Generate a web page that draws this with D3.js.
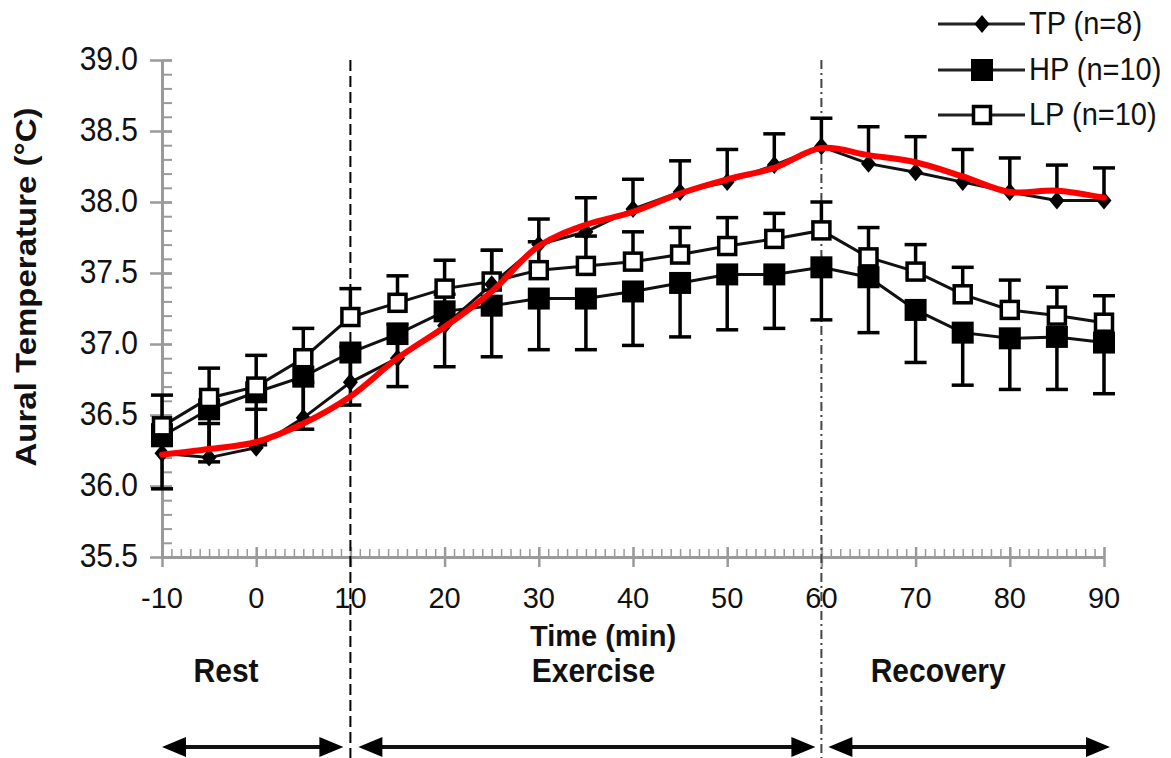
<!DOCTYPE html>
<html>
<head>
<meta charset="utf-8">
<script src="https://cdn.jsdelivr.net/npm/d3@7"></script>
<style>
  body { margin: 0; background: #fff; }
  text { font-family: "Liberation Sans", Arial, sans-serif; }
</style>
</head>
<body>
<div id="chart"></div>
<script>
// time points (min)
var times = [-10, -5, 0, 5, 10, 15, 20, 25, 30, 35, 40, 45, 50, 55, 60, 65, 70, 75, 80, 85, 90];

// TP (n=8), error bars drawn upward
var tpMean = [36.23, 36.20, 36.27, 36.48, 36.73, 36.90, 37.13, 37.42, 37.70, 37.79, 37.95, 38.07, 38.14, 38.26, 38.39, 38.27, 38.21, 38.14, 38.07, 38.01, 38.01];
var tpSd   = [0.20, 0.24, 0.27, 0.25, 0.25, 0.24, 0.22, 0.24, 0.18, 0.24, 0.21, 0.22, 0.23, 0.22, 0.20, 0.26, 0.25, 0.23, 0.24, 0.25, 0.23];

// HP (n=10), error bars drawn downward
var hpMean = [36.35, 36.54, 36.66, 36.77, 36.94, 37.07, 37.23, 37.27, 37.32, 37.32, 37.37, 37.43, 37.49, 37.49, 37.54, 37.47, 37.24, 37.08, 37.04, 37.05, 37.01];
var hpSd   = [0.37, 0.37, 0.37, 0.37, 0.37, 0.37, 0.39, 0.36, 0.36, 0.36, 0.38, 0.38, 0.39, 0.38, 0.37, 0.39, 0.37, 0.37, 0.36, 0.37, 0.36];

// LP (n=10), error bars drawn upward
var lpMean = [36.42, 36.62, 36.70, 36.90, 37.19, 37.29, 37.39, 37.44, 37.52, 37.55, 37.58, 37.63, 37.69, 37.74, 37.80, 37.61, 37.51, 37.35, 37.24, 37.20, 37.15];
var lpSd   = [0.22, 0.21, 0.22, 0.21, 0.20, 0.19, 0.20, 0.22, 0.20, 0.21, 0.21, 0.19, 0.20, 0.18, 0.20, 0.21, 0.19, 0.19, 0.21, 0.20, 0.19];

// red smoothed trend line drawn over TP
var trend = [36.22, 36.26, 36.31, 36.44, 36.63, 36.90, 37.12, 37.37, 37.69, 37.84, 37.93, 38.06, 38.16, 38.24, 38.38, 38.33, 38.28, 38.18, 38.07, 38.08, 38.03];

var yTicks = [35.5, 36.0, 36.5, 37.0, 37.5, 38.0, 38.5, 39.0];
var xTicks = [-10, 0, 10, 20, 30, 40, 50, 60, 70, 80, 90];

var phaseNames = ["Rest", "Exercise", "Recovery"];
var phaseStart = [-10, 10, 60];
var phaseEnd   = [10, 60, 90];

var legendLabels = ["TP (n=8)", "HP (n=10)", "LP (n=10)"];

// ---- layout ----
var W = 1171, H = 758;
var margin = { top: 60, right: 67, bottom: 201, left: 162 };
var phaseLabelAt = [-3.2, 35.8, 72.4];
var axisGrey = "#9a9a9a";

var svg = d3.select("#chart").append("svg")
    .attr("width", W).attr("height", H);

var x = d3.scaleLinear().domain([-10, 90]).range([margin.left, W - margin.right]);
var y = d3.scaleLinear().domain([35.5, 39]).range([H - margin.bottom, margin.top]);

function label(g, tx, ty, str, size, weight, anchor, sy) {
    return g.append("text")
        .attr("transform", "translate(" + tx + "," + ty + ") scale(1," + (sy || 1) + ")")
        .attr("font-size", size)
        .attr("font-weight", weight || "normal")
        .attr("text-anchor", anchor || "middle")
        .attr("fill", "#111")
        .text(str);
}

// ---- axes ----
var yMinor = svg.append("g")
    .attr("transform", "translate(" + margin.left + ",0)")
    .call(d3.axisRight(y).ticks(35).tickSize(10).tickFormat(""));
yMinor.select(".domain").remove();
yMinor.selectAll("line").attr("stroke", axisGrey).attr("stroke-width", 2);

var yAxis = svg.append("g")
    .attr("transform", "translate(" + margin.left + ",0)")
    .call(d3.axisLeft(y).tickValues(yTicks).tickSize(12).tickSizeOuter(0).tickFormat(""));
yAxis.select(".domain").attr("stroke", axisGrey).attr("stroke-width", 3);
yAxis.selectAll("line").attr("stroke", axisGrey).attr("stroke-width", 2.5).attr("x2", -12).attr("x1", 10);

var xMinor = svg.append("g")
    .attr("transform", "translate(0," + y(35.5) + ")")
    .call(d3.axisTop(x).ticks(100).tickSize(8).tickFormat(""));
xMinor.select(".domain").remove();
xMinor.selectAll("line").attr("stroke", axisGrey).attr("stroke-width", 1.5);

var xAxis = svg.append("g")
    .attr("transform", "translate(0," + y(35.5) + ")")
    .call(d3.axisBottom(x).tickValues(xTicks).tickSize(10).tickSizeOuter(0).tickFormat(""));
xAxis.select(".domain").attr("stroke", axisGrey).attr("stroke-width", 3);
xAxis.selectAll("line").attr("stroke", axisGrey).attr("stroke-width", 2.5).attr("y1", -10);

yTicks.forEach(function (v) {
    label(svg, margin.left - 24, y(v) + 10, d3.format(".1f")(v), 30, "normal", "end", 1.1);
});
xTicks.forEach(function (v) {
    label(svg, x(v), 608, String(v), 29, "normal", "middle");
});

label(svg, 603, 646, "Time (min)", 29, "bold", "middle");

svg.append("text")
    .attr("transform", "translate(36," + 287 + ") rotate(-90) scale(1.1,1)")
    .attr("font-size", 30)
    .attr("font-weight", "bold")
    .attr("text-anchor", "middle")
    .attr("fill", "#111")
    .text("Aural Temperature (\u00B0C)");

// ---- phase separators, labels, arrows ----
[10, 60].forEach(function (t, i) {
    svg.append("line")
        .attr("x1", x(t)).attr("x2", x(t))
        .attr("y1", y(39)).attr("y2", H)
        .attr("stroke", i === 0 ? "#000" : "#444")
        .attr("stroke-width", 2)
        .attr("stroke-dasharray", i === 0 ? "11,5" : "9,4,2,4");
});

var arrowY = 747;
var insetL = [0, 8, 7], insetR = [7, 6, -6];
phaseNames.forEach(function (name, i) {
    label(svg, x(phaseLabelAt[i]), 682, name, 30, "bold", "middle", 1.1);
    var x0 = x(phaseStart[i]) + insetL[i], x1 = x(phaseEnd[i]) - insetR[i];
    svg.append("line")
        .attr("x1", x0 + 20).attr("x2", x1 - 20)
        .attr("y1", arrowY).attr("y2", arrowY)
        .attr("stroke", "#111").attr("stroke-width", 4);
    svg.append("path")
        .attr("d", "M" + x0 + "," + arrowY + "L" + (x0 + 24) + "," + (arrowY - 10) + "L" + (x0 + 24) + "," + (arrowY + 10) + "Z")
        .attr("fill", "#000");
    svg.append("path")
        .attr("d", "M" + x1 + "," + arrowY + "L" + (x1 - 24) + "," + (arrowY - 10) + "L" + (x1 - 24) + "," + (arrowY + 10) + "Z")
        .attr("fill", "#000");
});

// ---- series ----
function rows(mean, sd) {
    return times.map(function (t, i) { return { t: t, v: mean[i], sd: sd[i] }; });
}
var tpData = rows(tpMean, tpSd), hpData = rows(hpMean, hpSd), lpData = rows(lpMean, lpSd);

var line = d3.line().x(function (d) { return x(d.t); }).y(function (d) { return y(d.v); });

[tpData, hpData, lpData].forEach(function (data) {
    svg.append("path").datum(data)
        .attr("d", line)
        .attr("fill", "none")
        .attr("stroke", "#111")
        .attr("stroke-width", 3);
});

function errorBars(data, dir) {
    var g = svg.append("g").attr("stroke", "#000").attr("stroke-width", 3.5);
    g.selectAll(".bar").data(data).enter().append("line")
        .attr("x1", function (d) { return x(d.t); })
        .attr("x2", function (d) { return x(d.t); })
        .attr("y1", function (d) { return y(d.v); })
        .attr("y2", function (d) { return y(d.v + dir * d.sd); });
    g.selectAll(".cap").data(data).enter().append("line")
        .attr("x1", function (d) { return x(d.t) - 11; })
        .attr("x2", function (d) { return x(d.t) + 11; })
        .attr("y1", function (d) { return y(d.v + dir * d.sd); })
        .attr("y2", function (d) { return y(d.v + dir * d.sd); });
}
errorBars(hpData, -1);
errorBars(lpData, 1);
errorBars(tpData, 1);

var diamond = "M0,-9L7.5,0L0,9L-7.5,0Z";

svg.selectAll(".hp").data(hpData).enter().append("rect")
    .attr("x", function (d) { return x(d.t) - 11; })
    .attr("y", function (d) { return y(d.v) - 11; })
    .attr("width", 22).attr("height", 22)
    .attr("fill", "#000");

svg.selectAll(".lp").data(lpData).enter().append("rect")
    .attr("x", function (d) { return x(d.t) - 8.5; })
    .attr("y", function (d) { return y(d.v) - 8.5; })
    .attr("width", 17).attr("height", 17)
    .attr("fill", "#fff").attr("stroke", "#000").attr("stroke-width", 3.5);

svg.selectAll(".tp").data(tpData).enter().append("path")
    .attr("transform", function (d) { return "translate(" + x(d.t) + "," + y(d.v) + ")"; })
    .attr("d", diamond)
    .attr("fill", "#000");

// red trend
svg.append("path")
    .datum(times.map(function (t, i) { return { t: t, v: trend[i] }; }))
    .attr("d", line.curve(d3.curveCatmullRom.alpha(0.5)))
    .attr("fill", "none")
    .attr("stroke", "#ff0000")
    .attr("stroke-width", 6)
    .attr("stroke-linecap", "round");

// ---- legend ----
var legendRowY = [24, 70, 115];
legendLabels.forEach(function (lab, i) {
    var g = svg.append("g").attr("transform", "translate(0," + legendRowY[i] + ")");
    g.append("line").attr("x1", 938).attr("x2", 1025).attr("y1", 0).attr("y2", 0)
        .attr("stroke", "#222").attr("stroke-width", 3);
    if (i === 0) {
        g.append("path").attr("d", diamond).attr("transform", "translate(982,0)").attr("fill", "#000");
    } else if (i === 1) {
        g.append("rect").attr("x", 971).attr("y", -11).attr("width", 22).attr("height", 22).attr("fill", "#000");
    } else {
        g.append("rect").attr("x", 973.5).attr("y", -8.5).attr("width", 17).attr("height", 17)
            .attr("fill", "#fff").attr("stroke", "#000").attr("stroke-width", 3.5);
    }
    label(g, 1029, 10, lab, 29, "normal", "start", 1.1);
});
</script>
</body>
</html>
